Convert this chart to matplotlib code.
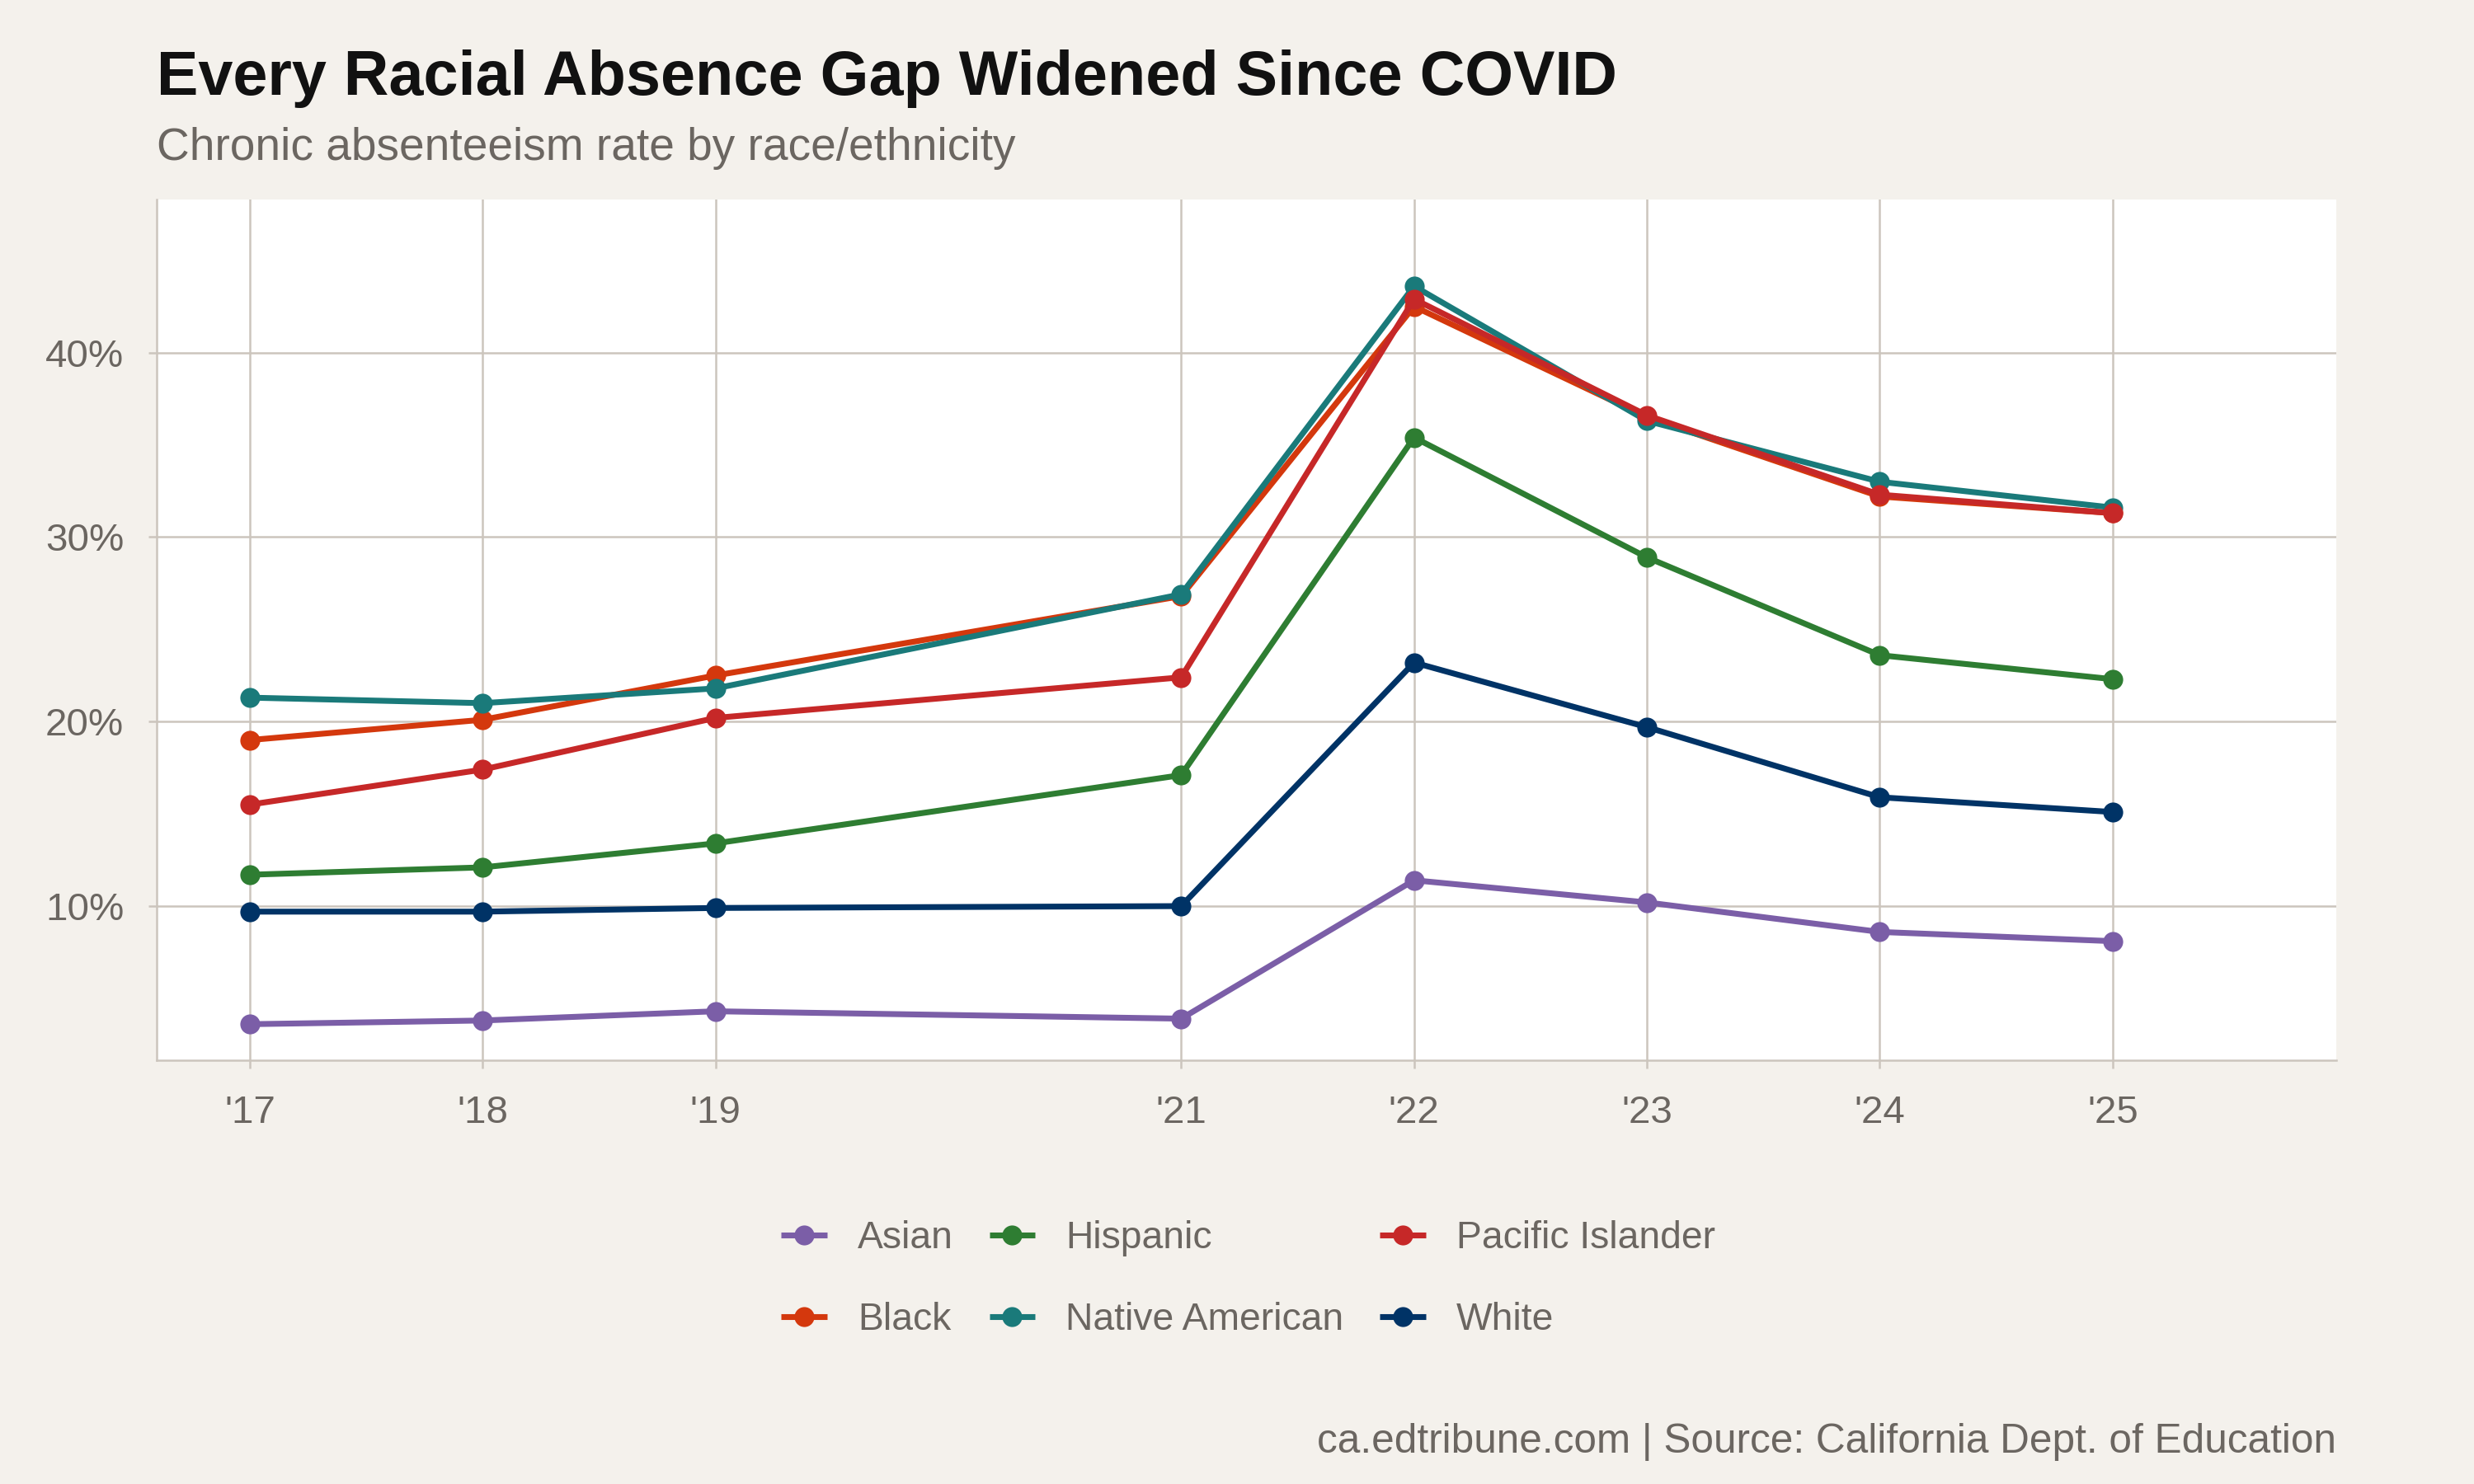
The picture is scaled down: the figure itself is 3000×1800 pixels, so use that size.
import matplotlib
matplotlib.use('Agg')
import matplotlib.pyplot as plt
from matplotlib.ticker import FuncFormatter

plt.rcParams['font.family'] = ['Liberation Sans', 'DejaVu Sans']

years = [2017, 2018, 2019, 2021, 2022, 2023, 2024, 2025]
year_labels = ["'17", "'18", "'19", "'21", "'22", "'23", "'24", "'25"]

asian = [3.6, 3.8, 4.3, 3.9, 11.4, 10.2, 8.6, 8.1]
black = [19.0, 20.1, 22.5, 26.8, 42.5, 36.5, 32.2, 31.3]
hispanic = [11.7, 12.1, 13.4, 17.1, 35.4, 28.9, 23.6, 22.3]
native = [21.3, 21.0, 21.8, 26.9, 43.6, 36.3, 33.0, 31.6]
pacific = [15.5, 17.4, 20.2, 22.4, 42.9, 36.6, 32.3, 31.3]
white = [9.7, 9.7, 9.9, 10.0, 23.2, 19.7, 15.9, 15.1]

groups = ['Asian', 'Black', 'Hispanic', 'Native American', 'Pacific Islander', 'White']
series = [asian, black, hispanic, native, pacific, white]
colors = ['#7B5EA7', '#D4380D', '#2E7D32', '#1A7A7A', '#C62828', '#003366']

bg = '#F4F1EC'
grid_c = '#CCC5BD'
text_c = '#6B6661'

fig = plt.figure(figsize=(10, 6), dpi=300, facecolor=bg)
ax = fig.add_axes([0.0633, 0.2856, 0.881, 0.58])
ax.set_facecolor('white')

for name, vals, c in zip(groups, series, colors):
    ax.plot(years, vals, color=c, lw=1.7, marker='o', ms=4.8, label=name,
            solid_capstyle='butt')

ax.set_xlim(2016.6, 2025.96)
ax.set_ylim(1.65, 48.3)
ax.set_xticks(years)
ax.set_xticklabels(year_labels)
ax.set_yticks([10, 20, 30, 40])
ax.yaxis.set_major_formatter(FuncFormatter(lambda v, p: f'{v:.0f}%'))

ax.grid(True, color=grid_c, lw=0.6)
ax.set_axisbelow(True)
for s in ['top', 'right']:
    ax.spines[s].set_visible(False)
for s in ['left', 'bottom']:
    ax.spines[s].set_color(grid_c)
    ax.spines[s].set_linewidth(0.6)
ax.tick_params(colors=grid_c, labelcolor=text_c, labelsize=11.4, length=2.5, width=0.6)
ax.tick_params(axis='x', pad=7.5)
ax.tick_params(axis='y', pad=7)

fig.text(0.0633, 0.936, 'Every Racial Absence Gap Widened Since COVID',
         fontsize=18.15, fontweight='bold', color='#111111', va='baseline')
fig.text(0.0633, 0.892, 'Chronic absenteeism rate by race/ethnicity',
         fontsize=13.2, color=text_c, va='baseline')
fig.text(0.9443, 0.021, 'ca.edtribune.com | Source: California Dept. of Education',
         fontsize=11.9, color=text_c, ha='right', va='baseline')

leg = fig.legend(loc='center', bbox_to_anchor=(0.5045, 0.138), ncol=3,
                 frameon=False, fontsize=11.1, labelcolor=text_c,
                 handlelength=1.2, handletextpad=0.8, columnspacing=0.95,
                 labelspacing=1.2)

fig.savefig('out.png', dpi=300, facecolor=bg)
